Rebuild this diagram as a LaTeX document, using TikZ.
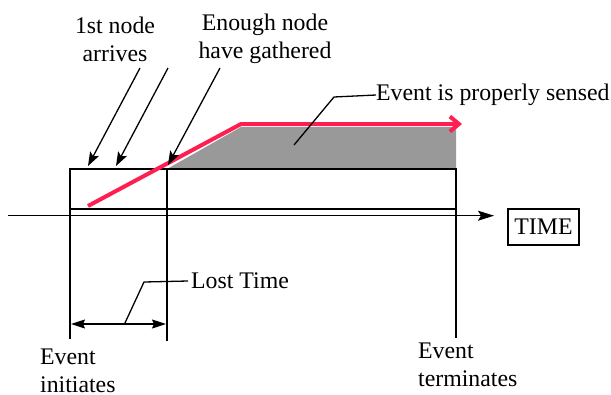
\documentclass[tikz,border=0pt]{standalone}
\usepackage{fontspec}
\setmainfont{Liberation Serif}
\usetikzlibrary{arrows.meta}
\definecolor{evred}{HTML}{FF1E50}
\definecolor{evgray}{HTML}{999999}
\tikzset{
  thinline/.style={line width=1.3pt, black},
  callout/.style={thinline, -{Stealth[length=14pt,width=10pt,inset=3pt]}},
  lbl/.style={font=\fontsize{23.8}{28}\selectfont, inner sep=0pt, align=left},
  lblc/.style={font=\fontsize{23.8}{28}\selectfont, inner sep=0pt, align=center},
  sensed/.style={line width=4pt, evred, line join=miter},
}
\begin{document}
\begin{tikzpicture}[x=1pt,y=-1pt]
\useasboundingbox (0,0) rectangle (611,394);
% gray area
\fill[evgray] (167,169) -- (241,127) -- (456,127) -- (456,169) -- cycle;
% box and verticals
\draw[thinline] (70,169) rectangle (456,209);
\coordinate (v1t) at (70,169);
\coordinate (v1b) at (70,339);
\coordinate (v2t) at (167,169);
\coordinate (v2b) at (167,341);
\coordinate (v3t) at (456,169);
\coordinate (v3b) at (456,338);
\draw[thinline] (v1t) -- (v1b);
\draw[thinline] (v2t) -- (v2b);
\draw[thinline] (v3t) -- (v3b);
% time axis
\coordinate (axs) at (8,215.7);
\coordinate (axe) at (494,215.7);
\draw[thinline, -{Stealth[length=16pt,width=10pt,inset=3pt]}] (axs) -- (axe);
\node[draw, thinline, minimum width=71pt, minimum height=36pt, inner sep=0pt, font=\fontsize{23.8}{28}\selectfont] (time) at (543.5,227) {TIME};
% red line
\coordinate (r0) at (88,206);
\coordinate (r1) at (241,124);
\coordinate (r2) at (462,124);
\draw[sensed, -{Straight Barb[length=9pt,width=15pt]}] (r0) -- (r1) -- (r2);
% callouts
\node[lblc] (first) at (115,39) {1st node\\arrives};
\node[lblc] (enough) at (265,39) {Enough node\\have gathered};
\coordinate (a1s) at (140,68);
\coordinate (a1e) at (88,166);
\coordinate (a2s) at (168,68);
\coordinate (a2e) at (116,166);
\coordinate (a3s) at (220,68);
\coordinate (a3e) at (168,165);
\draw[callout] (a1s) -- (a1e);
\draw[callout] (a2s) -- (a2e);
\draw[callout] (a3s) -- (a3e);
% Event is properly sensed
\node[lbl, anchor=west] (prop) at (376,95) {Event is properly sensed};
\coordinate (p0) at (294,145);
\coordinate (p1) at (334,97);
\draw[thinline] (p0) -- (p1) -- (prop.west);
% Lost time
\coordinate (lt0) at (71,324);
\coordinate (lt1) at (166,324);
\draw[thinline, {Stealth[length=14pt,width=9pt,inset=2pt]}-{Stealth[length=14pt,width=9pt,inset=2pt]}] (lt0) -- (lt1);
\node[lbl, anchor=west] (lost) at (191,281) {Lost Time};
\coordinate (lm) at (124.5,324);
\coordinate (lk) at (144,282);
\draw[thinline] (lm) -- (lk) -- ([xshift=-3pt]lost.west);
% bottom labels
\node[lbl, anchor=north west] (init) at (40,349) {Event\\initiates};
\node[lbl, anchor=north west] (term) at (418,343) {Event\\terminates};
\end{tikzpicture}
\end{document}
